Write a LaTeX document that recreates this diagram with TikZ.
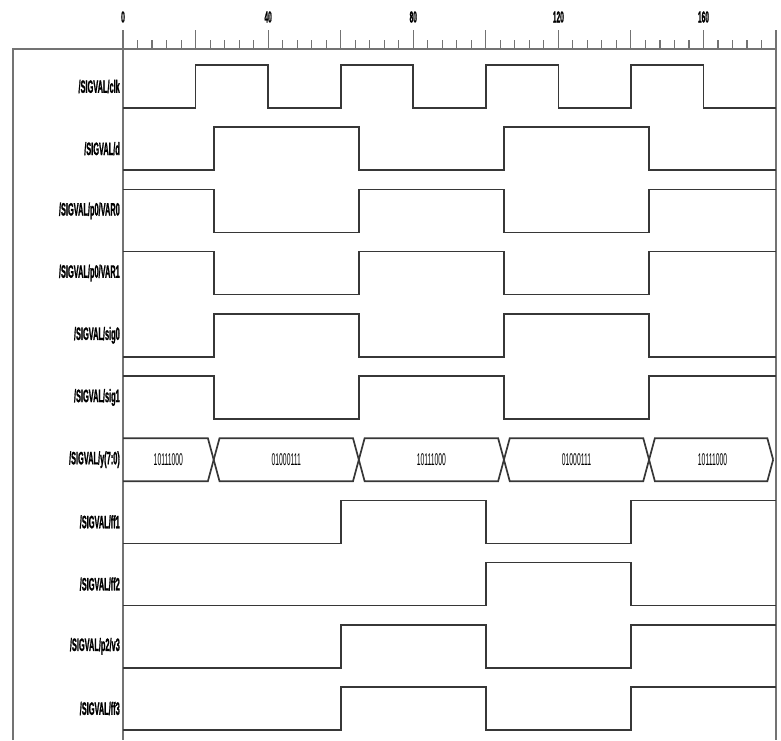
\documentclass[tikz,border=0pt]{standalone}
\usepackage{fontspec}
\newfontfamily\sigfont[FakeStretch=0.41, BoldFeatures={FakeBold=1}]{Liberation Sans}
\newfontfamily\valfont[FakeStretch=0.4]{Liberation Sans}
\definecolor{wavegray}{RGB}{55,55,55}
\definecolor{framegray}{RGB}{115,115,115}

\begin{document}
\begin{tikzpicture}[x=1pt, y=-1pt,
  frame/.style={draw=framegray, line width=1.1pt},
  wave/.style={draw=wavegray, line width=1.7pt},
  siglabel/.style={anchor=east, inner sep=0pt, font=\sigfont\bfseries\fontsize{18}{20}\selectfont},
  ticklabel/.style={inner sep=0pt, font=\sigfont\bfseries\fontsize{16}{18}\selectfont},
  busval/.style={inner sep=0pt, font=\valfont\fontsize{17}{18}\selectfont}
]
  \useasboundingbox (0,0) rectangle (781,740);

  % frame and ruler
  \draw[frame] (13,740) -- (13,49) -- (776,49);
  \draw[frame] (123,30) -- (123,740);
  \draw[frame] (776,30) -- (776,740);

  % signal names
  \node[siglabel] (lclk)  at (120,86.5)  {/SIGVAL/clk};
  \node[siglabel] (ld)    at (120,148.7) {/SIGVAL/d};
  \node[siglabel] (lvar0) at (120,210.9) {/SIGVAL/p0/VAR0};
  \node[siglabel] (lvar1) at (120,273.1) {/SIGVAL/p0/VAR1};
  \node[siglabel] (lsig0) at (120,335.3) {/SIGVAL/sig0};
  \node[siglabel] (lsig1) at (120,397.5) {/SIGVAL/sig1};
  \node[siglabel] (ly)    at (120,459.7) {/SIGVAL/y(7:0)};
  \node[siglabel] (lff1)  at (120,521.9) {/SIGVAL/ff1};
  \node[siglabel] (lff2)  at (120,584.1) {/SIGVAL/ff2};
  \node[siglabel] (lv3)   at (120,646.3) {/SIGVAL/p2/v3};
  \node[siglabel] (lff3)  at (120,708.5) {/SIGVAL/ff3};

  \begin{scope}[shift={(123pt,0pt)}, x=3.628pt]
    % ticks
    \foreach \t in {4,8,...,176}
      \draw[frame] (\t,40) -- (\t,49);
    \foreach \t in {20,40,...,160}
      \draw[frame] (\t,30) -- (\t,49);
    \foreach \t in {0,40,...,160}
      \node[ticklabel] (tick\t) at (\t,17) {\t};

    % clk
    \draw[wave] (0,108) -- (20,108) -- (20,65) -- (40,65) -- (40,108) -- (60,108) -- (60,65) -- (80,65) -- (80,108)
      -- (100,108) -- (100,65) -- (120,65) -- (120,108) -- (140,108) -- (140,65) -- (160,65) -- (160,108) -- (180,108);
    % d
    \draw[wave] (0,170.2) -- (25,170.2) -- (25,127.2) -- (65,127.2) -- (65,170.2) -- (105,170.2) -- (105,127.2)
      -- (145,127.2) -- (145,170.2) -- (180,170.2);
    % p0/VAR0
    \draw[wave] (0,189.4) -- (25,189.4) -- (25,232.4) -- (65,232.4) -- (65,189.4) -- (105,189.4) -- (105,232.4)
      -- (145,232.4) -- (145,189.4) -- (180,189.4);
    % p0/VAR1
    \draw[wave] (0,251.6) -- (25,251.6) -- (25,294.6) -- (65,294.6) -- (65,251.6) -- (105,251.6) -- (105,294.6)
      -- (145,294.6) -- (145,251.6) -- (180,251.6);
    % sig0
    \draw[wave] (0,356.8) -- (25,356.8) -- (25,313.8) -- (65,313.8) -- (65,356.8) -- (105,356.8) -- (105,313.8)
      -- (145,313.8) -- (145,356.8) -- (180,356.8);
    % sig1
    \draw[wave] (0,376) -- (25,376) -- (25,419) -- (65,419) -- (65,376) -- (105,376) -- (105,419)
      -- (145,419) -- (145,376) -- (180,376);

    % y(7:0) bus
    \draw[wave] (0,438.2) -- (23.4,438.2) -- (26.6,481.2) -- (63.4,481.2) -- (66.6,438.2) -- (103.4,438.2)
      -- (106.6,481.2) -- (143.4,481.2) -- (146.6,438.2) -- (177.6,438.2) -- (179.2,459.7);
    \draw[wave] (0,481.2) -- (23.4,481.2) -- (26.6,438.2) -- (63.4,438.2) -- (66.6,481.2) -- (103.4,481.2)
      -- (106.6,438.2) -- (143.4,438.2) -- (146.6,481.2) -- (177.6,481.2) -- (179.2,459.7);
    \node[busval] (yv0) at (12.5,460)  {10111000};
    \node[busval] (yv1) at (45,460)    {01000111};
    \node[busval] (yv2) at (85,460)    {10111000};
    \node[busval] (yv3) at (125,460)   {01000111};
    \node[busval] (yv4) at (162.5,460) {10111000};

    % ff1
    \draw[wave] (0,543.4) -- (60,543.4) -- (60,500.4) -- (100,500.4) -- (100,543.4) -- (140,543.4) -- (140,500.4) -- (180,500.4);
    % ff2
    \draw[wave] (0,605.6) -- (100,605.6) -- (100,562.6) -- (140,562.6) -- (140,605.6) -- (180,605.6);
    % p2/v3
    \draw[wave] (0,667.8) -- (60,667.8) -- (60,624.8) -- (100,624.8) -- (100,667.8) -- (140,667.8) -- (140,624.8) -- (180,624.8);
    % ff3
    \draw[wave] (0,730) -- (60,730) -- (60,687) -- (100,687) -- (100,730) -- (140,730) -- (140,687) -- (180,687);
  \end{scope}
\end{tikzpicture}
\end{document}
